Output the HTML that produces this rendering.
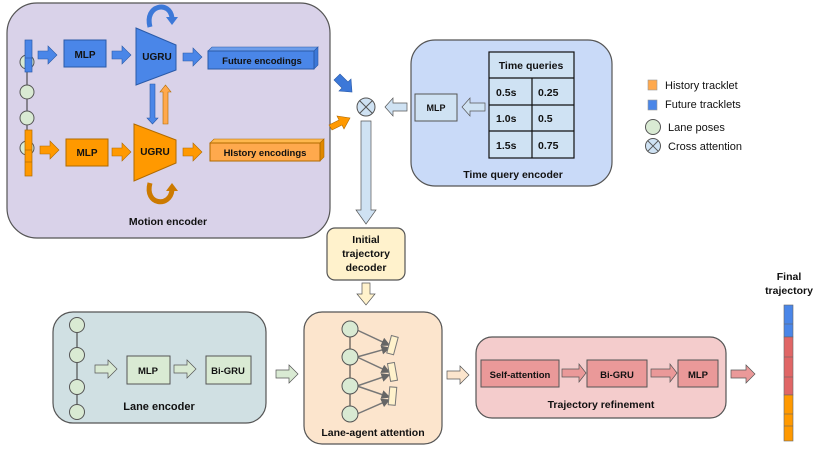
<!DOCTYPE html>
<html><head><meta charset="utf-8"><style>
html,body{margin:0;padding:0;background:#fff}
svg{display:block}
text{font-family:"Liberation Sans",Arial,sans-serif;font-weight:bold;fill:#111}
</style></head><body>
<svg width="822" height="452" viewBox="0 0 822 452" xmlns="http://www.w3.org/2000/svg">
<defs>
<marker id="ah" markerWidth="6" markerHeight="6" refX="5" refY="3" orient="auto"><path d="M0,0L6,3L0,6z" fill="#666"/></marker>
<marker id="ahs" markerWidth="4" markerHeight="4" refX="3" refY="2" orient="auto"><path d="M0,0L4,2L0,4z" fill="#333"/></marker>
</defs>

<!-- Motion encoder -->
<rect x="7" y="3" width="323" height="235" rx="30" fill="#d9d2e9" stroke="#555" stroke-width="1.2"/>
<line x1="27" y1="62" x2="27" y2="150" stroke="#333" stroke-width="1"/>
<circle cx="27" cy="62" r="7" fill="#d9ead3" stroke="#555"/>
<circle cx="27" cy="92" r="7" fill="#d9ead3" stroke="#555"/>
<circle cx="27" cy="118" r="7" fill="#d9ead3" stroke="#555"/>
<circle cx="27" cy="148" r="7" fill="#d9ead3" stroke="#555"/>
<rect x="25" y="40" width="7" height="32" fill="#4a86e8" stroke="#2a5aa8" stroke-width="0.7"/>
<line x1="25" y1="58" x2="32" y2="58" stroke="#2a5aa8" stroke-width="0.7"/>
<rect x="25" y="130" width="7" height="46" fill="#ff9900" stroke="#b06a00" stroke-width="0.7"/>
<line x1="25" y1="150" x2="32" y2="150" stroke="#b06a00" stroke-width="0.7"/>
<line x1="25" y1="162" x2="32" y2="162" stroke="#b06a00" stroke-width="0.7"/>
<!-- blue arrows -->
<path d="M38,51h10v-5l9,9l-9,9v-5h-10z" fill="#4a86e8" stroke="#2a5aa8" stroke-width="0.6"/>
<rect x="64" y="40" width="42" height="27" fill="#4a86e8" stroke="#2a5aa8"/>
<text x="85" y="58" font-size="10" text-anchor="middle">MLP</text>
<path d="M112,51h10v-5l9,9l-9,9v-5h-10z" fill="#4a86e8" stroke="#2a5aa8" stroke-width="0.6"/>
<path d="M136,28L176,45L176,70L136,85z" fill="#4a86e8" stroke="#2a5aa8"/>
<text x="157" y="60" font-size="10" text-anchor="middle">UGRU</text>
<path d="M183,53h10v-5l9,9l-9,9v-5h-10z" fill="#4a86e8" stroke="#2a5aa8" stroke-width="0.6"/>
<path d="M208,51l4,-4h106l-4,4z" fill="#6d9eeb" stroke="#2a5aa8" stroke-width="0.6"/>
<path d="M314,51l4,-4v18l-4,4z" fill="#3c78d8" stroke="#2a5aa8" stroke-width="0.6"/>
<rect x="208" y="51" width="106" height="18" fill="#4a86e8" stroke="#2a5aa8"/>
<text x="262" y="64" font-size="9.5" text-anchor="middle">Future encodings</text>
<!-- loops -->
<path d="M150,27 C144,5 170,0 172,18" fill="none" stroke="#3c78d8" stroke-width="5"/>
<path d="M166,17l12,0l-6,8z" fill="#3c78d8"/>
<path d="M150,183 C144,205 170,208 172,190" fill="none" stroke="#cc7a00" stroke-width="5"/>
<path d="M166,191l12,0l-6,-8z" fill="#cc7a00"/>
<!-- vertical arrows -->
<path d="M150,84h5v34h3l-5.5,6l-5.5,-6h3z" fill="#4a86e8" stroke="#2a5aa8" stroke-width="0.6"/>
<path d="M163,124h5v-32h3l-5.5,-7l-5.5,7h3z" fill="#ffa94d" stroke="#b06a00" stroke-width="0.6"/>
<!-- orange row -->
<path d="M40,146h10v-5l9,9l-9,9v-5h-10z" fill="#ff9900" stroke="#b06a00" stroke-width="0.6"/>
<rect x="66" y="139" width="42" height="27" fill="#ff9900" stroke="#b06a00"/>
<text x="87" y="156" font-size="10" text-anchor="middle">MLP</text>
<path d="M112,148h10v-5l9,9l-9,9v-5h-10z" fill="#ff9900" stroke="#b06a00" stroke-width="0.6"/>
<path d="M134,124L176,140L176,163L134,181z" fill="#ff9900" stroke="#b06a00"/>
<text x="155" y="155" font-size="10" text-anchor="middle">UGRU</text>
<path d="M183,148h10v-5l9,9l-9,9v-5h-10z" fill="#ff9900" stroke="#b06a00" stroke-width="0.6"/>
<path d="M210,143l4,-4h110l-4,4z" fill="#ffb74d" stroke="#b06a00" stroke-width="0.6"/>
<path d="M320,143l4,-4v18l-4,4z" fill="#e08800" stroke="#b06a00" stroke-width="0.6"/>
<rect x="210" y="143" width="110" height="18" fill="#ffa94d" stroke="#b06a00"/>
<text x="265" y="156" font-size="9.5" text-anchor="middle">HIstory encodings</text>
<text x="168" y="225" font-size="10.5" text-anchor="middle">Motion encoder</text>

<!-- into cross -->
<path d="M334,80l6,-6l8,8l3,-3l1,13l-13,-1l3,-3z" fill="#3c78d8" stroke="#2a5aa8" stroke-width="0.6"/>
<path d="M332,130l-3,-5l10,-5l-2,-4l13,2l-6,11l-2,-4z" fill="#ff9900" stroke="#b06a00" stroke-width="0.6"/>
<circle cx="366" cy="107" r="9" fill="#cfe2f3" stroke="#555"/>
<path d="M359.6,100.6L372.4,113.4M372.4,100.6L359.6,113.4" stroke="#555"/>
<path d="M407,103h-14v-5l-8,9l8,9v-5h14z" fill="#cfe2f3" stroke="#555" stroke-width="0.7"/>
<path d="M361,121h10v89h5l-10,14l-10,-14h5z" fill="#cfe2f3" stroke="#555" stroke-width="0.7"/>

<!-- Time query encoder -->
<rect x="411" y="40" width="201" height="146" rx="24" fill="#c9daf8" stroke="#555" stroke-width="1.2"/>
<rect x="415" y="94" width="42" height="27" fill="#cfe2f3" stroke="#555"/>
<text x="436" y="111" font-size="9" text-anchor="middle">MLP</text>
<path d="M485,103h-15v-5l-8,9l8,9v-5h15z" fill="#cfe2f3" stroke="#555" stroke-width="0.7"/>
<rect x="489" y="52" width="85" height="106" fill="#cfe2f3" stroke="#111" stroke-width="1.2"/>
<path d="M489,78h85M489,105h85M489,131h85M532,78v80" stroke="#111" stroke-width="1.2"/>
<text x="531" y="69" font-size="10.5" text-anchor="middle">Time queries</text>
<text x="496" y="96" font-size="10.5">0.5s</text><text x="538" y="96" font-size="10.5">0.25</text>
<text x="496" y="122" font-size="10.5">1.0s</text><text x="538" y="122" font-size="10.5">0.5</text>
<text x="496" y="149" font-size="10.5">1.5s</text><text x="538" y="149" font-size="10.5">0.75</text>
<text x="513" y="178" font-size="10.5" text-anchor="middle">Time query encoder</text>

<!-- Legend -->
<rect x="648" y="80" width="9" height="10" fill="#ffa94d" stroke="#999" stroke-width="0.6"/>
<rect x="648" y="100" width="9" height="10" fill="#4a86e8" stroke="#999" stroke-width="0.6"/>
<circle cx="653" cy="127" r="7.5" fill="#d9ead3" stroke="#555"/>
<circle cx="653" cy="146" r="7.5" fill="#cfe2f3" stroke="#555"/>
<path d="M647.7,140.7L658.3,151.3M658.3,140.7L647.7,151.3" stroke="#555"/>
<g style="font-weight:normal"><text x="665" y="89" font-size="11" style="font-weight:normal">History tracklet</text>
<text x="665" y="108" font-size="11" style="font-weight:normal">Future tracklets</text>
<text x="668" y="131" font-size="11" style="font-weight:normal">Lane poses</text>
<text x="668" y="150" font-size="11" style="font-weight:normal">Cross attention</text></g>

<!-- Initial trajectory decoder -->
<rect x="327" y="228" width="78" height="52" rx="8" fill="#fff2cc" stroke="#555" stroke-width="1.2"/>
<text x="366" y="243" font-size="10.5" text-anchor="middle">Initial</text>
<text x="366" y="257" font-size="10.5" text-anchor="middle">trajectory</text>
<text x="366" y="271" font-size="10.5" text-anchor="middle">decoder</text>
<path d="M362,283h8v11h5l-9,11l-9,-11h5z" fill="#fff2cc" stroke="#555" stroke-width="0.7"/>

<!-- Lane encoder -->
<rect x="53" y="312" width="213" height="111" rx="20" fill="#d0e0e3" stroke="#555" stroke-width="1.2"/>
<line x1="77" y1="332" x2="77" y2="405" stroke="#333"/>
<circle cx="77" cy="325" r="7.5" fill="#d9ead3" stroke="#555"/>
<circle cx="77" cy="355" r="7.5" fill="#d9ead3" stroke="#555"/>
<circle cx="77" cy="387" r="7.5" fill="#d9ead3" stroke="#555"/>
<circle cx="77" cy="412" r="7.5" fill="#d9ead3" stroke="#555"/>
<path d="M95,365h13v-5l9,9l-9,9v-5h-13z" fill="#d9ead3" stroke="#555" stroke-width="0.7"/>
<rect x="127" y="356" width="43" height="28" fill="#d9ead3" stroke="#555"/>
<text x="148" y="374" font-size="9.5" text-anchor="middle">MLP</text>
<path d="M174,365h13v-5l9,9l-9,9v-5h-13z" fill="#d9ead3" stroke="#555" stroke-width="0.7"/>
<rect x="206" y="356" width="45" height="28" fill="#d9ead3" stroke="#555"/>
<text x="228" y="374" font-size="9.5" text-anchor="middle">Bi-GRU</text>
<text x="159" y="410" font-size="11" text-anchor="middle">Lane encoder</text>
<path d="M276,370h13v-5l9,9l-9,9v-5h-13z" fill="#d9ead3" stroke="#555" stroke-width="0.7"/>

<!-- Lane-agent attention -->
<rect x="304" y="312" width="138" height="132" rx="18" fill="#fce5cd" stroke="#555" stroke-width="1.2"/>
<g stroke="#777" stroke-width="1.5" fill="none">
<path d="M357,330L389,345" marker-end="url(#ah)"/>
<path d="M357,357L389,348" marker-end="url(#ah)"/>
<path d="M357,357L389,372" marker-end="url(#ah)"/>
<path d="M357,386L389,375" marker-end="url(#ah)"/>
<path d="M357,386L389,397" marker-end="url(#ah)"/>
<path d="M357,414L389,400" marker-end="url(#ah)"/>
</g>
<line x1="350" y1="337" x2="350" y2="407" stroke="#333"/>
<circle cx="350" cy="329" r="8" fill="#d9ead3" stroke="#555"/>
<circle cx="350" cy="357" r="8" fill="#d9ead3" stroke="#555"/>
<circle cx="350" cy="386" r="8" fill="#d9ead3" stroke="#555"/>
<circle cx="350" cy="414" r="8" fill="#d9ead3" stroke="#555"/>
<rect x="389" y="336" width="7" height="18" fill="#fff2cc" stroke="#777" transform="rotate(15 392 345)"/>
<rect x="389" y="363" width="7" height="18" fill="#fff2cc" stroke="#777" transform="rotate(-10 392 372)"/>
<rect x="389" y="387" width="7" height="18" fill="#fff2cc" stroke="#777" transform="rotate(5 392 396)"/>
<text x="373" y="436" font-size="10.5" text-anchor="middle">Lane-agent attention</text>
<path d="M447,371h13v-5l9,9l-9,9v-5h-13z" fill="#fce5cd" stroke="#555" stroke-width="0.7"/>

<!-- Trajectory refinement -->
<rect x="476" y="337" width="250" height="81" rx="16" fill="#f4cccc" stroke="#555" stroke-width="1.2"/>
<rect x="481" y="360" width="78" height="27" fill="#ea9999" stroke="#555"/>
<text x="520" y="378" font-size="9.5" text-anchor="middle">Self-attention</text>
<path d="M562,369h17v-5l7,9l-7,9v-5h-17z" fill="#ea9999" stroke="#555" stroke-width="0.7"/>
<rect x="587" y="360" width="60" height="27" fill="#ea9999" stroke="#555"/>
<text x="617" y="378" font-size="9.5" text-anchor="middle">Bi-GRU</text>
<path d="M651,369h19v-5l7,9l-7,9v-5h-19z" fill="#ea9999" stroke="#555" stroke-width="0.7"/>
<rect x="678" y="360" width="40" height="27" fill="#ea9999" stroke="#555"/>
<text x="698" y="378" font-size="9.5" text-anchor="middle">MLP</text>
<text x="601" y="408" font-size="10.5" text-anchor="middle">Trajectory refinement</text>
<path d="M731,370h15v-5l9,9l-9,9v-5h-15z" fill="#ea9999" stroke="#555" stroke-width="0.7"/>

<!-- Final trajectory -->
<text x="789" y="280" font-size="10.5" text-anchor="middle">Final</text>
<text x="789" y="294" font-size="10.5" text-anchor="middle">trajectory</text>
<rect x="784" y="305" width="9" height="32" fill="#4a86e8" stroke="#666" stroke-width="0.6"/>
<line x1="784" y1="324" x2="793" y2="324" stroke="#666" stroke-width="0.6"/>
<rect x="784" y="337" width="9" height="58" fill="#e06666" stroke="#666" stroke-width="0.6"/>
<line x1="784" y1="357" x2="793" y2="357" stroke="#666" stroke-width="0.6"/>
<line x1="784" y1="377" x2="793" y2="377" stroke="#666" stroke-width="0.6"/>
<rect x="784" y="395" width="9" height="46" fill="#ff9900" stroke="#666" stroke-width="0.6"/>
<line x1="784" y1="414" x2="793" y2="414" stroke="#666" stroke-width="0.6"/>
<line x1="784" y1="426" x2="793" y2="426" stroke="#666" stroke-width="0.6"/>
</svg>
</body></html>
